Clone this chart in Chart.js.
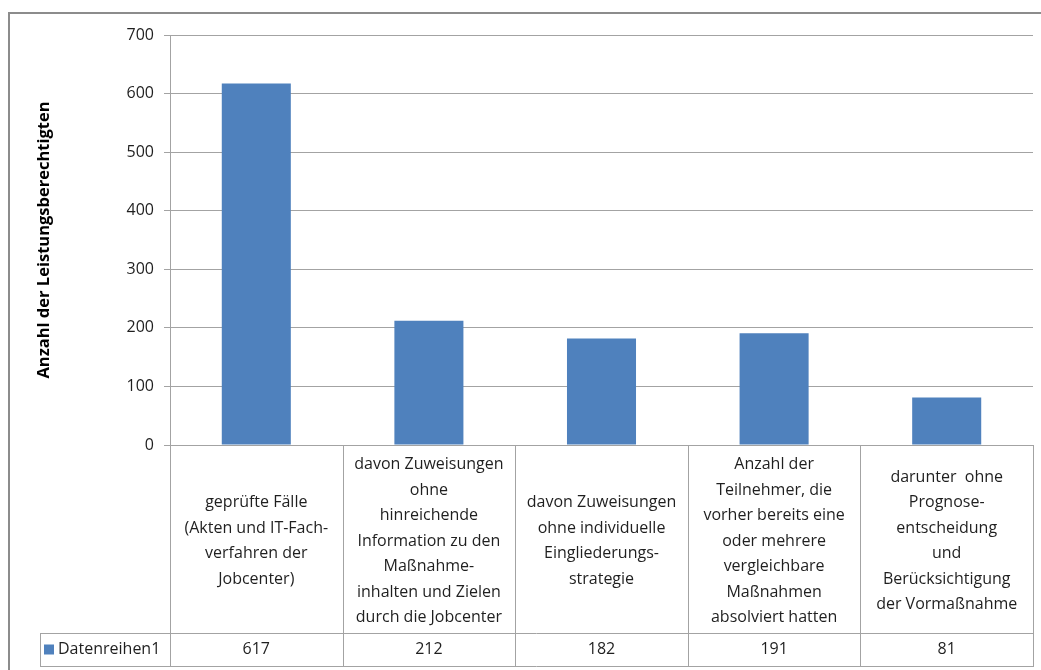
<!DOCTYPE html>
<html>
<head>
<meta charset="utf-8">
<script src="https://cdn.jsdelivr.net/npm/chart.js@4/dist/chart.umd.min.js"></script>
<style>
  html, body { margin: 0; padding: 0; background: #fff; }
  #wrap { width: 1041px; height: 670px; position: relative; }
</style>
</head>
<body>
<div id="wrap"><canvas id="c" width="1041" height="670"></canvas></div>
<script>
// Category labels, one array of text lines per column of the data table
const categories = [
  ['geprüfte Fälle', '(Akten und IT-Fach-', 'verfahren der', 'Jobcenter)'],
  ['davon Zuweisungen', 'ohne', 'hinreichende', 'Information zu den', 'Maßnahme-', 'inhalten und Zielen', 'durch die Jobcenter'],
  ['davon Zuweisungen', 'ohne individuelle', 'Eingliederungs-', 'strategie'],
  ['Anzahl der', 'Teilnehmer, die', 'vorher bereits eine', 'oder mehrere', 'vergleichbare', 'Maßnahmen', 'absolviert hatten'],
  ['darunter  ohne', 'Prognose-', 'entscheidung', 'und', 'Berücksichtigung', 'der Vormaßnahme']
];
const seriesName = 'Datenreihen1';
const seriesValues = [617, 212, 182, 191, 81];
const yMin = 0;
const yMax = 700;
const yStep = 100;
const yTitle = 'Anzahl der Leistungsberechtigten';

const FONT = "'Open Sans', 'DejaVu Sans', sans-serif";
const BAR_COLOR = '#4F81BD';
const LINE_COLOR = '#a3a3a3';
const TEXT_COLOR = '#1f1f1f';

// Outer frame of the chart
const framePlugin = {
  id: 'frame',
  beforeDraw(chart) {
    const ctx = chart.ctx;
    ctx.save();
    ctx.fillStyle = '#fff';
    ctx.fillRect(0, 0, chart.width, chart.height);
    ctx.strokeStyle = '#8c8c8c';
    ctx.lineWidth = 2;
    ctx.strokeRect(9, 13, chart.width + 20, chart.height + 20);
    ctx.restore();
  }
};

// Data table under the plot: category labels, legend key and values
const dataTablePlugin = {
  id: 'dataTable',
  afterDraw(chart) {
    const ctx = chart.ctx;
    const xs = chart.scales.x;
    const area = chart.chartArea;
    const n = categories.length;
    const colW = xs.getPixelForValue(1) - xs.getPixelForValue(0);
    const top = Math.round(area.bottom);
    const mid = top + 188;
    const bot = mid + 33;
    const keyLeft = 40;

    ctx.save();
    ctx.strokeStyle = LINE_COLOR;
    ctx.lineWidth = 1;
    const line = (x1, y1, x2, y2) => {
      ctx.beginPath();
      ctx.moveTo(x1, y1);
      ctx.lineTo(x2, y2);
      ctx.stroke();
    };
    line(area.left, top + 0.5, area.right, top + 0.5);
    line(keyLeft, mid + 0.5, area.right, mid + 0.5);
    line(keyLeft, bot + 0.5, area.right, bot + 0.5);
    line(keyLeft + 0.5, mid, keyLeft + 0.5, bot + 1);
    for (let i = 0; i <= n; i++) {
      const bx = Math.round(xs.getPixelForValue(i) - colW / 2) + 0.5;
      line(bx, top, bx, bot + 1);
    }

    ctx.fillStyle = TEXT_COLOR;
    ctx.font = '16px ' + FONT;
    ctx.textAlign = 'center';
    ctx.textBaseline = 'middle';
    const lh = 25.5;
    const cellMid = (top + mid) / 2 + 2;
    categories.forEach((lines, i) => {
      const cx = xs.getPixelForValue(i);
      const y0 = cellMid - (lines.length - 1) * lh / 2;
      lines.forEach((t, j) => ctx.fillText(t, cx, y0 + j * lh));
    });

    const rowMid = (mid + bot) / 2;
    seriesValues.forEach((v, i) => {
      ctx.fillText(String(v), xs.getPixelForValue(i), rowMid);
    });

    // legend key
    ctx.fillStyle = BAR_COLOR;
    ctx.fillRect(44, rowMid - 5, 10, 10);
    ctx.fillStyle = TEXT_COLOR;
    ctx.textAlign = 'left';
    ctx.fillText(seriesName, 58, rowMid);
    ctx.restore();
  }
};

new Chart(document.getElementById('c'), {
  type: 'bar',
  data: {
    labels: categories,
    datasets: [{
      label: seriesName,
      data: seriesValues,
      backgroundColor: BAR_COLOR,
      borderWidth: 0,
      barPercentage: 0.4,
      categoryPercentage: 1
    }]
  },
  options: {
    responsive: false,
    animation: false,
    events: [],
    layout: { padding: { left: 0, right: 8, top: 35, bottom: 225 } },
    plugins: { legend: { display: false }, tooltip: { enabled: false } },
    scales: {
      x: { display: false, offset: true },
      y: {
        min: yMin,
        max: yMax,
        ticks: {
          stepSize: yStep,
          color: TEXT_COLOR,
          font: { family: FONT, size: 16 },
          padding: 10
        },
        grid: { color: LINE_COLOR, tickLength: 6, drawTicks: true },
        border: { color: LINE_COLOR },
        title: {
          display: true,
          text: yTitle,
          color: '#000',
          font: { family: FONT, size: 16.5, weight: 'bold' },
          padding: { top: 34, bottom: 0 }
        },
        afterFit(scale) { scale.width = 170; }
      }
    }
  },
  plugins: [framePlugin, dataTablePlugin]
});
</script>
</body>
</html>
